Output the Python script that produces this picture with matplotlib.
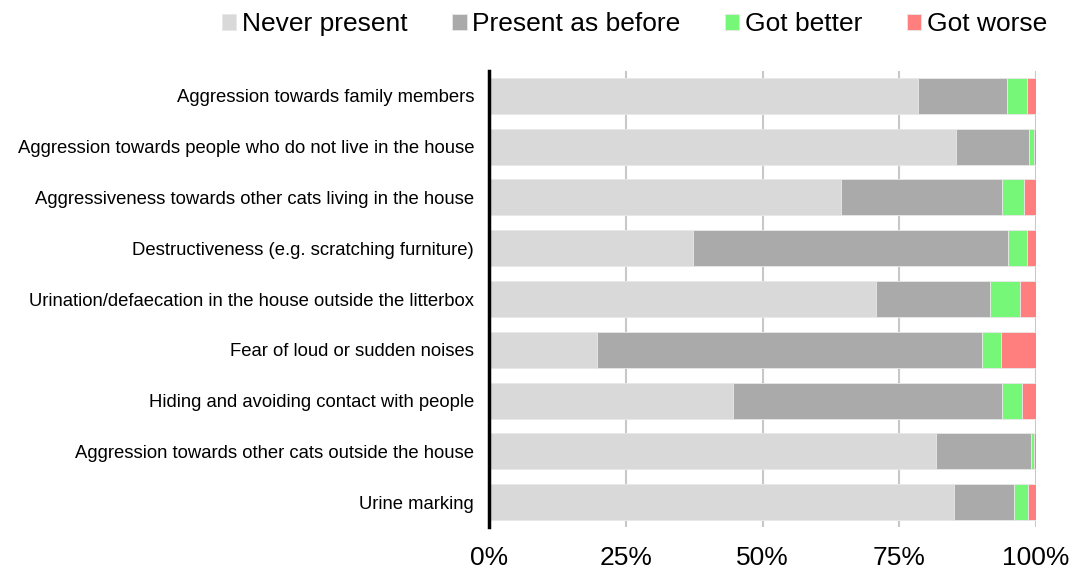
import numpy as np
import matplotlib
matplotlib.use("Agg")
import matplotlib.pyplot as plt

plt.rcParams['font.family'] = ['Liberation Sans', 'DejaVu Sans']

categories = [
    'Aggression towards family members',
    'Aggression towards people who do not live in the house',
    'Aggressiveness towards other cats living in the house',
    'Destructiveness (e.g. scratching furniture)',
    'Urination/defaecation in the house outside the litterbox',
    'Fear of loud or sudden noises',
    'Hiding and avoiding contact with people',
    'Aggression towards other cats outside the house',
    'Urine marking',
]
never_present = [78.4, 85.4, 64.3, 37.2, 70.7, 19.7, 44.6, 81.6, 84.9]
present_as_before = [16.3, 13.3, 29.4, 57.7, 20.9, 70.4, 49.2, 17.5, 11.1]
got_better = [3.7, 0.9, 4.0, 3.5, 5.5, 3.4, 3.6, 0.5, 2.5]
got_worse = [1.6, 0.4, 2.3, 1.6, 2.9, 6.5, 2.6, 0.4, 1.5]

series = [
    ('Never present', never_present, '#d9d9d9'),
    ('Present as before', present_as_before, '#aaaaaa'),
    ('Got better', got_better, '#77f777'),
    ('Got worse', got_worse, '#ff7f7f'),
]

fig = plt.figure(figsize=(10.77, 5.69), dpi=100)
ax = fig.add_axes([0.4545, 0.073, 0.5075, 0.803])

y = np.arange(len(categories))
left = np.zeros(len(categories))
for name, vals, color in series:
    vals = np.array(vals)
    ax.barh(y, vals, left=left, height=0.71, color=color, label=name,
            edgecolor='#e8e8e8', linewidth=0.6, zorder=3)
    left += vals

ax.set_ylim(len(categories) - 0.5, -0.5)
ax.set_xlim(0, 100)
ax.set_yticks(y)
ax.set_yticklabels(categories, fontsize=13.3)
ax.set_xticks([0, 25, 50, 75, 100])
ax.set_xticklabels(['0%', '25%', '50%', '75%', '100%'], fontsize=19)
ax.tick_params(axis='both', length=0)
ax.tick_params(axis='x', pad=13)
ax.tick_params(axis='y', pad=11)

# light vertical gridlines behind the bars
ax.grid(axis='x', color='#c8c8c8', linewidth=1.5, zorder=0)
for s in ['top', 'right', 'bottom']:
    ax.spines[s].set_visible(False)
ax.spines['left'].set_linewidth(2.5)
ax.spines['left'].set_zorder(4)

fig.legend(loc='center', bbox_to_anchor=(0.589, 0.957), ncol=4, frameon=False,
           fontsize=19, handlelength=0.55, handleheight=0.55,
           handletextpad=0.2, columnspacing=1.7)

fig.savefig('out.png', dpi=100)
